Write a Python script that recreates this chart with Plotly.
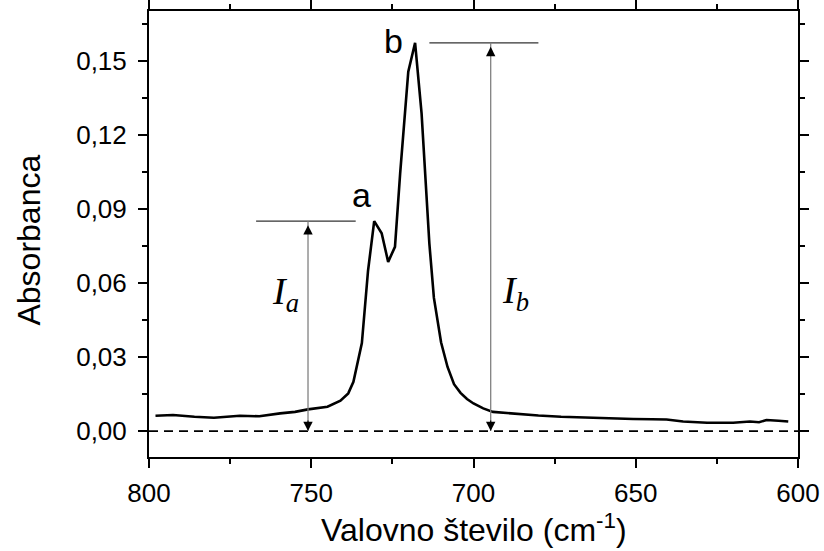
import plotly.graph_objects as go

# ---- data ----
wavenumber = [798, 792.6, 786, 780, 772, 766, 759.6, 755, 751, 745, 741, 738.6, 737,
              734.4, 732.5, 730.6, 728.3, 726.3, 724.2, 722.6, 720.1, 718, 716, 713.6,
              712.2, 710, 708, 706, 704, 702, 700, 697, 694, 690, 685, 680, 673, 666,
              661, 655, 650.8, 645, 640.5, 635.4, 628, 620, 617, 614.8, 612, 609.7, 606, 603]
absorbance = [0.0062, 0.0065, 0.0058, 0.0054, 0.0062, 0.0060, 0.0072, 0.0078, 0.0088, 0.0099,
              0.0123, 0.0153, 0.0200, 0.0357, 0.0650, 0.0851, 0.0802, 0.0686, 0.0747, 0.1045,
              0.1457, 0.1574, 0.1288, 0.0760, 0.0540, 0.0360, 0.0260, 0.0190, 0.0155, 0.0130,
              0.0112, 0.0092, 0.0078, 0.0073, 0.0068, 0.0063, 0.0058, 0.0055, 0.0051, 0.0050,
              0.0049, 0.0048, 0.0047, 0.0039, 0.0034, 0.0034, 0.0036, 0.0039, 0.0036, 0.0045,
              0.0042, 0.0039]

peak_labels = ["a", "b"]
peak_pos = [730.6, 718]
peak_height = [0.0851, 0.1574]
arrow_x = [751, 694.7]
level_x0 = [767, 713.6]
level_x1 = [736.3, 680]
intensity_labels = ["<i>I</i><sub><i>a</i></sub>", "<i>I</i><sub><i>b</i></sub>"]
intensity_label_x = [758, 687]
intensity_label_y = [0.0555, 0.056]

x_range = [800, 600]
x_ticks = [800, 750, 700, 650, 600]
x_minor = [775, 725, 675, 625]
y_range = [-0.0105, 0.1703]
y_ticks = [0.00, 0.03, 0.06, 0.09, 0.12, 0.15]
y_minor = [0.015, 0.045, 0.075, 0.105, 0.135, 0.165]

x_title = "Valovno število (cm<sup>-1</sup>)"
y_title = "Absorbanca"

SANS = "Liberation Sans, Arial, sans-serif"
SERIF = "Liberation Serif, Times New Roman, serif"

fig = go.Figure()

# baseline (dashed)
fig.add_trace(go.Scatter(x=x_range, y=[0, 0], mode="lines",
                         line=dict(color="black", width=1.8, dash="9px,6px"),
                         hoverinfo="skip", showlegend=False))
# spectrum
fig.add_trace(go.Scatter(x=wavenumber, y=absorbance, mode="lines",
                         line=dict(color="black", width=2.6),
                         showlegend=False))

label_xshift = [-1, -10]
label_yshift = [5, -19]

for i in range(2):
    # horizontal level line
    fig.add_shape(type="line", xref="x", yref="y",
                  x0=level_x0[i], x1=level_x1[i], y0=peak_height[i], y1=peak_height[i],
                  line=dict(color="#333333", width=1.3))
    # vertical shaft (grey)
    fig.add_shape(type="line", xref="x", yref="y",
                  x0=arrow_x[i], x1=arrow_x[i], y0=0, y1=peak_height[i],
                  line=dict(color="#808080", width=1.3))
    # arrow heads (black)
    fig.add_annotation(x=arrow_x[i], y=peak_height[i], xref="x", yref="y",
                       ax=0, ay=12, text="", showarrow=True,
                       arrowhead=2, arrowsize=1.7, arrowwidth=1.1,
                       arrowcolor="black", standoff=4)
    fig.add_annotation(x=arrow_x[i], y=0, xref="x", yref="y",
                       ax=0, ay=-12, text="", showarrow=True,
                       arrowhead=2, arrowsize=1.7, arrowwidth=1.1,
                       arrowcolor="black", standoff=0)
    # peak label
    fig.add_annotation(x=peak_pos[i], y=peak_height[i], xref="x", yref="y",
                       text=peak_labels[i], showarrow=False,
                       xanchor="right", yanchor="bottom",
                       xshift=label_xshift[i], yshift=label_yshift[i],
                       font=dict(family=SANS, size=34, color="black"))
    # intensity label
    fig.add_annotation(x=intensity_label_x[i], y=intensity_label_y[i], xref="x", yref="y",
                       text=intensity_labels[i], showarrow=False,
                       font=dict(family=SERIF, size=38, color="black"))

# axis titles
fig.add_annotation(xref="paper", yref="paper", x=0.5, y=-0.16,
                   text=x_title, showarrow=False, xanchor="center", yanchor="middle",
                   font=dict(family=SANS, size=32, color="black"))
fig.add_annotation(xref="paper", yref="paper", x=-0.1864, y=0.4854,
                   text=y_title, showarrow=False, textangle=-90,
                   xanchor="center", yanchor="middle",
                   font=dict(family=SANS, size=32, color="black"))

axis_common = dict(showline=True, linecolor="black", linewidth=2, mirror="ticks",
                   ticks="outside", tickcolor="black", tickwidth=1.5, ticklen=9,
                   showgrid=False, zeroline=False,
                   tickfont=dict(family=SANS, size=26, color="black"))

fig.update_xaxes(range=x_range, tickvals=x_ticks,
                 minor=dict(ticks="outside", ticklen=5, tickwidth=1.5, tickcolor="black",
                            tickvals=x_minor),
                 ticklabelstandoff=3,
                 **axis_common)
fig.update_yaxes(range=y_range, tickvals=y_ticks, tickformat=".2f",
                 minor=dict(ticks="outside", ticklen=5, tickwidth=1.5, tickcolor="black",
                            tickvals=y_minor),
                 ticklabelstandoff=6,
                 **axis_common)

fig.update_layout(width=824, height=551, separators=",.",
                  margin=dict(l=149, r=26, t=11, b=94, autoexpand=False),
                  paper_bgcolor="white", plot_bgcolor="white")

fig.write_html("out.html", config={"displayModeBar": False},
               post_script="document.body.style.margin='0';")
